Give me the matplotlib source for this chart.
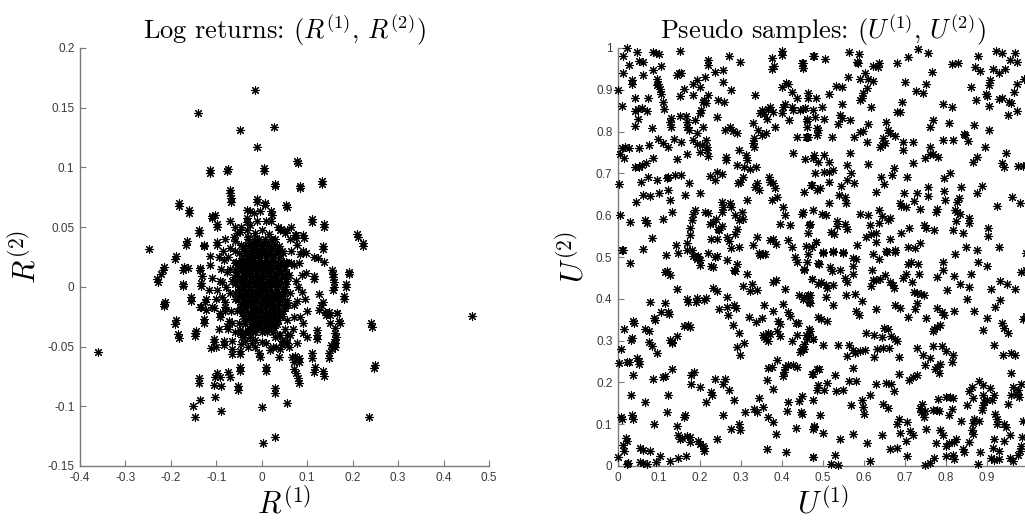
import matplotlib
matplotlib.use("Agg")
import matplotlib.pyplot as plt

plt.rcParams['mathtext.fontset'] = 'cm'
plt.rcParams['font.family'] = ['Liberation Sans', 'DejaVu Sans']

# ---------------- Left panel: log returns (R1, R2) ----------------
returns_outer = [
    (-0.361, -0.0547), (-0.249, 0.0316), (-0.23, 0.0064), (-0.222, 0.0109), (-0.215, 0.0165),
    (-0.214, -0.0123), (-0.216, -0.0142), (-0.189, 0.026), (-0.189, -0.0277), (-0.183, 0.0701),
    (-0.184, -0.0394), (-0.173, 0.0028), (-0.172, 0.017), (-0.162, 0.0156), (-0.161, 0.064),
    (-0.165, 0.038), (-0.156, -0.0081), (-0.152, -0.0997), (-0.146, -0.1087), (-0.145, -0.0369),
    (-0.146, -0.0383), (-0.141, 0.1455), (-0.138, 0.0472), (-0.138, -0.076), (-0.136, -0.0947),
    (-0.136, 0.0162), (-0.132, 0.0087), (-0.133, 0.0003), (-0.133, -0.0165), (-0.127, 0.0338),
    (-0.127, -0.0268), (-0.122, -0.0098), (-0.127, 0.0352), (-0.114, 0.0975), (-0.112, -0.0508),
    (-0.109, 0.0595), (-0.106, -0.0179), (-0.105, -0.0439), (-0.103, -0.0925), (-0.1, -0.05),
    (-0.099, 0.0528), (-0.099, -0.0718), (-0.099, 0.0374), (-0.092, -0.0751), (-0.09, -0.1039),
    (-0.092, -0.0221), (-0.083, -0.045), (-0.081, -0.0165), (-0.074, -0.0709), (-0.073, -0.029),
    (-0.075, 0.0986), (-0.07, 0.0813), (-0.068, 0.0743), (-0.066, -0.0522), (-0.052, -0.0827),
    (-0.049, -0.0668), (-0.049, 0.1316), (-0.049, -0.0536), (-0.048, -0.0388), (-0.037, -0.045),
    (-0.033, 0.0575), (-0.033, 0.0645), (-0.02, -0.038), (-0.015, 0.1645), (-0.011, 0.117),
    (-0.011, 0.0735), (-0.017, 0.0617), (-0.015, -0.0444), (-0.006, -0.055), (0.0, -0.1008),
    (0.002, -0.1304), (0.004, 0.0994), (0.006, 0.0701), (0.009, -0.0668), (0.021, 0.0631),
    (0.026, 0.1335), (0.028, -0.126), (0.029, 0.086), (0.03, -0.0844), (0.031, -0.0506),
    (0.038, -0.0589), (0.042, 0.0483), (0.053, 0.0687), (0.055, -0.0975), (0.053, -0.0458),
    (0.056, -0.0402), (0.067, -0.0589), (0.072, -0.0689), (0.075, 0.0436), (0.073, -0.0583),
    (0.077, 0.1056), (0.08, -0.0765), (0.082, -0.0598), (0.085, 0.0846), (0.085, 0.0277),
    (0.088, -0.0047), (0.09, -0.0388), (0.091, 0.0436), (0.098, 0.0282), (0.111, -0.055),
    (0.11, 0.0567), (0.114, 0.0092), (0.117, -0.0673), (0.121, -0.0402), (0.124, 0.024),
    (0.126, -0.0193), (0.132, 0.0883), (0.134, 0.0338), (0.135, -0.0123), (0.135, -0.0702),
    (0.137, 0.0528), (0.139, -0.0207), (0.147, -0.0556), (0.149, -0.0207), (0.153, -0.0486),
    (0.154, 0.0142), (0.156, 0.0081), (0.158, -0.0003), (0.162, -0.0472), (0.165, -0.0221),
    (0.164, -0.0416), (0.162, -0.0346), (0.171, -0.0282), (0.18, -0.0075), (0.186, 0.0022),
    (0.193, 0.0128), (0.21, 0.0444), (0.222, 0.0366), (0.237, -0.1087), (0.24, -0.0299),
    (0.25, -0.0654), (0.463, -0.024),
]

returns_ring = [
    (-0.114, 0.0957), (-0.076, 0.0966), (0.005, 0.0974), (0.079, 0.104), (0.03, 0.0846),
    (0.085, 0.0826), (0.132, 0.0862), (-0.07, 0.079), (-0.068, 0.0714), (-0.183, 0.0678),
    (-0.161, 0.0622), (-0.011, 0.0714), (0.007, 0.0687), (0.055, 0.0667), (-0.027, 0.0631),
    (-0.004, 0.0631), (0.022, 0.0603), (-0.11, 0.0575), (-0.103, 0.0603), (-0.099, 0.0505),
    (-0.033, 0.0547), (0.11, 0.0547), (0.137, 0.05), (-0.139, 0.0455), (-0.167, 0.0352),
    (-0.127, 0.0338), (-0.099, 0.0352), (0.211, 0.0416), (0.223, 0.0338), (-0.191, 0.0232),
    (-0.217, 0.0137), (-0.228, 0.0044), (-0.174, 0.0142), (-0.136, 0.0137), (-0.134, 0.0036),
    (-0.174, 0.0003), (-0.156, -0.0115), (-0.215, -0.0159), (-0.191, -0.031), (-0.183, -0.043),
    (-0.147, -0.041), (-0.127, -0.0304), (-0.136, -0.0165), (-0.125, -0.0123), (-0.11, -0.0165),
    (-0.092, -0.0249), (-0.076, -0.0327), (-0.106, -0.0458), (-0.083, -0.0486), (-0.066, -0.0561),
    (-0.048, -0.0561), (-0.049, -0.0701), (-0.071, -0.0751), (-0.103, -0.0751), (-0.139, -0.0807),
    (-0.105, -0.0821), (-0.09, -0.0829), (-0.053, -0.0863), (0.01, -0.0701), (0.03, -0.0885),
    (0.081, -0.0801), (0.076, -0.0718), (0.115, -0.0709), (0.137, -0.0745), (0.11, -0.0597),
    (0.07, -0.0625), (0.081, -0.0625), (0.147, -0.0597), (0.154, -0.0522), (0.162, -0.05),
    (0.162, -0.0388), (0.162, -0.0438), (0.173, -0.0304), (0.121, -0.0438), (0.165, -0.0215),
    (0.151, -0.0235), (0.142, -0.0235), (0.242, -0.0332), (0.248, -0.0681), (0.18, -0.0103),
    (0.186, -0.0003), (0.193, 0.0109), (0.157, 0.0109), (0.158, 0.0044), (0.157, -0.0025),
    (0.127, -0.0059), (0.13, -0.0151), (0.115, 0.0064), (0.136, 0.0212), (0.134, 0.0316),
    (0.114, 0.0254), (0.092, 0.0408), (0.076, 0.0408), (0.055, 0.0477), (0.041, 0.0472),
    (0.151, -0.0304), (0.121, -0.036), (0.099, -0.0416), (0.077, -0.0472), (0.044, -0.0486),
    (0.018, -0.0528), (-0.004, -0.0584), (-0.022, -0.0472), (-0.044, -0.0416), (-0.048, -0.036),
    (-0.037, -0.0374), (-0.026, -0.0416), (0.0, -0.0458), (0.037, -0.0402), (0.055, -0.0472),
    (-0.088, -0.0081), (-0.081, -0.0123), (-0.099, -0.0025), (-0.088, 0.0044), (-0.076, 0.0128),
    (-0.084, 0.0226), (-0.07, 0.0324), (-0.059, 0.038), (-0.048, 0.0463), (-0.033, 0.0477),
    (-0.114, 0.026), (-0.115, 0.0184), (-0.11, 0.0073), (-0.117, -0.0025), (-0.122, -0.0193),
    (0.074, 0.0436), (0.065, 0.03), (0.07, 0.018), (0.075, 0.005), (0.078, -0.012),
    (0.07, -0.025), (0.062, -0.04), (0.098, 0.012), (0.1, -0.02), (0.09, -0.03),
    (-0.09, 0.015), (-0.095, -0.035), (-0.065, -0.045), (-0.06, 0.05), (0.02, 0.055),
]

returns_mid = [
    (-0.085, 0.03), (-0.08, 0.04), (-0.078, 0.0), (-0.082, -0.02), (-0.075, -0.035),
    (-0.062, 0.042), (-0.055, 0.045), (-0.065, -0.03), (-0.058, -0.038), (-0.045, -0.048),
    (-0.03, -0.05), (-0.015, -0.05), (0.01, -0.047), (0.025, -0.05), (0.04, -0.052),
    (0.06, -0.05), (0.068, -0.035), (0.072, -0.015), (0.08, 0.0), (0.082, 0.02),
    (0.078, 0.035), (0.062, 0.04), (0.05, 0.045), (0.035, 0.05), (0.01, 0.055),
    (-0.01, 0.055), (-0.025, 0.052), (-0.045, 0.05), (0.088, 0.01), (0.095, -0.01),
    (0.085, -0.025), (0.09, 0.03), (-0.092, 0.005), (-0.095, 0.025), (-0.1, -0.01),
    (0.065, 0.05), (-0.07, 0.055), (0.045, -0.045), (0.065, 0.02), (-0.075, 0.025),
]

returns_core = [
    (-0.04, 0.03), (-0.025, 0.035), (-0.01, 0.038), (0.005, 0.036), (0.02, 0.033), (0.035, 0.028),
    (-0.05, 0.02), (-0.035, 0.022), (-0.02, 0.025), (-0.005, 0.027), (0.01, 0.024), (0.025, 0.022),
    (0.04, 0.018), (-0.055, 0.01), (-0.04, 0.012), (-0.025, 0.015), (-0.012, 0.016), (0.002, 0.014),
    (0.016, 0.015), (0.03, 0.012), (0.045, 0.008), (-0.05, 0.0), (-0.035, 0.003), (-0.02, 0.005),
    (-0.008, 0.006), (0.006, 0.004), (0.02, 0.005), (0.034, 0.002), (0.05, -0.002), (-0.045, -0.008),
    (-0.03, -0.006), (-0.016, -0.004), (-0.003, -0.003), (0.012, -0.005), (0.026, -0.007),
    (0.04, -0.01), (-0.04, -0.018), (-0.025, -0.015), (-0.01, -0.013), (0.004, -0.014),
    (0.018, -0.016), (0.032, -0.018), (0.046, -0.02), (-0.035, -0.027), (-0.02, -0.025),
    (-0.006, -0.024), (0.008, -0.026), (0.022, -0.027), (0.036, -0.028), (-0.025, -0.035),
    (-0.01, -0.034), (0.005, -0.036), (0.02, -0.035),
    (-0.015, 0.045), (0.0, 0.048), (0.015, 0.044), (-0.03, 0.042), (0.03, 0.04), (0.045, 0.03),
    (0.055, 0.02), (0.06, 0.01), (0.062, -0.005), (0.058, -0.015), (0.055, -0.028), (0.05, -0.035),
    (0.04, -0.04), (0.028, -0.042), (-0.065, 0.005), (-0.06, -0.01), (-0.058, 0.02), (-0.055, -0.02),
    (-0.05, -0.03), (-0.045, 0.035), (-0.06, 0.03), (-0.07, 0.015), (-0.07, -0.005), (-0.068, -0.02),
    (-0.04, -0.04),
    (-0.032, 0.026), (-0.018, 0.031), (-0.003, 0.031), (0.012, 0.029), (0.027, 0.027), (-0.045, 0.016),
    (-0.03, 0.018), (-0.016, 0.02), (-0.001, 0.02), (0.014, 0.019), (0.028, 0.017), (0.042, 0.013),
    (-0.043, 0.006), (-0.028, 0.009), (-0.014, 0.01), (0.0, 0.009), (0.013, 0.01), (0.027, 0.008),
    (0.04, 0.005), (-0.04, -0.002), (-0.024, 0.0), (-0.01, 0.001), (0.004, -0.0), (0.018, 0.0),
    (0.032, -0.002), (0.045, -0.006), (-0.036, -0.012), (-0.022, -0.01), (-0.008, -0.008),
    (0.007, -0.009), (0.021, -0.011), (0.035, -0.013), (-0.03, -0.021), (-0.016, -0.02),
    (-0.002, -0.019), (0.012, -0.021), (0.026, -0.022), (0.04, -0.024), (-0.018, -0.03),
    (-0.003, -0.03), (0.013, -0.031), (0.028, -0.032),
]

returns_center = [
    (-0.03, 0.04), (-0.018, 0.04), (-0.006, 0.04), (0.008, 0.04), (0.02, 0.04),
    (-0.042, 0.034), (-0.03, 0.034), (-0.016, 0.034), (-0.002, 0.034), (0.012, 0.034), (0.026, 0.034),
    (0.038, 0.034),
    (-0.05, 0.028), (-0.038, 0.028), (-0.024, 0.028), (-0.01, 0.028), (0.004, 0.028), (0.018, 0.028),
    (0.032, 0.028), (0.046, 0.028),
    (-0.056, 0.021), (-0.042, 0.021), (-0.028, 0.021), (-0.014, 0.021), (0.0, 0.021), (0.014, 0.021),
    (0.028, 0.021), (0.042, 0.021), (0.054, 0.021),
    (-0.06, 0.015), (-0.048, 0.015), (-0.034, 0.015), (-0.02, 0.015), (-0.006, 0.015), (0.008, 0.015),
    (0.022, 0.015), (0.036, 0.015), (0.05, 0.015),
    (-0.062, 0.008), (-0.05, 0.008), (-0.036, 0.008), (-0.022, 0.008), (-0.008, 0.008), (0.006, 0.008),
    (0.02, 0.008), (0.034, 0.008), (0.048, 0.008), (0.058, 0.008),
    (-0.058, 0.002), (-0.044, 0.002), (-0.03, 0.002), (-0.016, 0.002), (-0.002, 0.002), (0.012, 0.002),
    (0.026, 0.002), (0.04, 0.002), (0.054, 0.002),
    (-0.058, -0.005), (-0.046, -0.005), (-0.032, -0.005), (-0.018, -0.005), (-0.004, -0.005),
    (0.01, -0.005), (0.024, -0.005), (0.038, -0.005), (0.052, -0.005),
    (-0.052, -0.011), (-0.04, -0.011), (-0.026, -0.011), (-0.012, -0.011), (0.002, -0.011),
    (0.016, -0.011), (0.03, -0.011), (0.044, -0.011), (0.056, -0.011),
    (-0.048, -0.018), (-0.034, -0.018), (-0.02, -0.018), (-0.006, -0.018), (0.008, -0.018),
    (0.022, -0.018), (0.036, -0.018), (0.05, -0.018),
    (-0.042, -0.024), (-0.028, -0.024), (-0.014, -0.024), (0.0, -0.024), (0.014, -0.024),
    (0.028, -0.024), (0.044, -0.024),
    (-0.036, -0.031), (-0.022, -0.031), (-0.008, -0.031), (0.006, -0.031), (0.02, -0.031),
    (0.034, -0.031),
    (-0.028, -0.038), (-0.014, -0.038), (0.0, -0.038), (0.012, -0.038), (0.024, -0.038),
]

returns_dense = [
    (-0.024, 0.037), (-0.012, 0.037), (0.001, 0.037), (0.014, 0.037), (0.028, 0.036),
    (-0.036, 0.031), (-0.023, 0.031), (-0.009, 0.031), (0.005, 0.031), (0.019, 0.031), (0.033, 0.031),
    (-0.044, 0.0245), (-0.031, 0.0245), (-0.017, 0.0245), (-0.003, 0.0245), (0.011, 0.0245),
    (0.025, 0.0245), (0.039, 0.0245),
    (-0.049, 0.018), (-0.035, 0.018), (-0.021, 0.018), (-0.007, 0.018), (0.007, 0.018),
    (0.021, 0.018), (0.035, 0.018), (0.047, 0.018),
    (-0.054, 0.0115), (-0.041, 0.0115), (-0.027, 0.0115), (-0.013, 0.0115), (0.001, 0.0115),
    (0.015, 0.0115), (0.029, 0.0115), (0.043, 0.0115), (0.053, 0.0115),
    (-0.055, 0.005), (-0.043, 0.005), (-0.029, 0.005), (-0.015, 0.005), (-0.001, 0.005),
    (0.013, 0.005), (0.027, 0.005), (0.041, 0.005), (0.053, 0.005),
    (-0.051, -0.0015), (-0.037, -0.0015), (-0.023, -0.0015), (-0.009, -0.0015), (0.005, -0.0015),
    (0.019, -0.0015), (0.033, -0.0015), (0.047, -0.0015),
    (-0.052, -0.008), (-0.039, -0.008), (-0.025, -0.008), (-0.011, -0.008), (0.003, -0.008),
    (0.017, -0.008), (0.031, -0.008), (0.045, -0.008),
    (-0.046, -0.0145), (-0.033, -0.0145), (-0.019, -0.0145), (-0.005, -0.0145), (0.009, -0.0145),
    (0.023, -0.0145), (0.037, -0.0145), (0.05, -0.0145),
    (-0.041, -0.021), (-0.027, -0.021), (-0.013, -0.021), (0.001, -0.021), (0.015, -0.021),
    (0.029, -0.021), (0.043, -0.021),
    (-0.035, -0.0275), (-0.021, -0.0275), (-0.007, -0.0275), (0.007, -0.0275), (0.021, -0.0275),
    (0.035, -0.0275),
    (-0.029, -0.0345), (-0.015, -0.0345), (-0.001, -0.0345), (0.013, -0.0345), (0.027, -0.0345),
]

# ---------------- Right panel: pseudo samples (U1, U2) ----------------
pseudo_upper_left = [
    (0.021, 0.999), (0.013, 0.98), (0.028, 0.96), (0.046, 0.99), (0.052, 0.97), (0.060, 0.966),
    (0.085, 0.99), (0.093, 0.987), (0.10, 0.985), (0.151, 0.994), (0.105, 0.957), (0.086, 0.947),
    (0.062, 0.935), (0.013, 0.939), (0.033, 0.923), (0.033, 0.915), (0.001, 0.90), (0.042, 0.88),
    (0.009, 0.861), (0.074, 0.88), (0.096, 0.927), (0.098, 0.915), (0.102, 0.903), (0.106, 0.891),
    (0.11, 0.871), (0.112, 0.855), (0.094, 0.911), (0.143, 0.935), (0.15, 0.939), (0.155, 0.94),
    (0.151, 0.884), (0.161, 0.901), (0.182, 0.915), (0.194, 0.923), (0.2, 0.907), (0.212, 0.931),
    (0.184, 0.887), (0.199, 0.845), (0.203, 0.851), (0.207, 0.871), (0.21, 0.875), (0.215, 0.869),
    (0.22, 0.887), (0.237, 0.943), (0.256, 0.947), (0.257, 0.919), (0.272, 0.98), (0.22, 0.971),
    (0.22, 0.959), (0.243, 0.875), (0.259, 0.871), (0.277, 0.9), (0.298, 0.967), (0.241, 0.834),
    (0.041, 0.849), (0.05, 0.853), (0.058, 0.856), (0.072, 0.85), (0.041, 0.813), (0.048, 0.829),
    (0.082, 0.808), (0.127, 0.824), (0.129, 0.81), (0.129, 0.832), (0.151, 0.837), (0.166, 0.837),
    (0.169, 0.824), (0.168, 0.812), (0.174, 0.804), (0.188, 0.827), (0.192, 0.796), (0.2, 0.845),
    (0.208, 0.812), (0.009, 0.76), (0.005, 0.746), (0.017, 0.764), (0.028, 0.76), (0.015, 0.736),
    (0.052, 0.76), (0.076, 0.768), (0.098, 0.782), (0.111, 0.772), (0.121, 0.764), (0.137, 0.782),
    (0.154, 0.775), (0.169, 0.746), (0.145, 0.734), (0.041, 0.716), (0.052, 0.715), (0.058, 0.72),
    (0.068, 0.724), (0.085, 0.736), (0.055, 0.68), (0.074, 0.692), (0.096, 0.684), (0.119, 0.688),
    (0.123, 0.692), (0.139, 0.696), (0.153, 0.695), (0.174, 0.676), (0.003, 0.675), (0.045, 0.632),
    (0.062, 0.648), (0.078, 0.646), (0.101, 0.652), (0.123, 0.66), (0.127, 0.636), (0.164, 0.648),
    (0.2, 0.654), (0.133, 0.608), (0.005, 0.6), (0.029, 0.584), (0.066, 0.588), (0.072, 0.582),
    (0.109, 0.59), (0.082, 0.546), (0.062, 0.52), (0.009, 0.516),
    (0.184, 0.78), (0.192, 0.77), (0.2, 0.752), (0.204, 0.767), (0.215, 0.78), (0.218, 0.764),
    (0.218, 0.756), (0.22, 0.742), (0.225, 0.693), (0.241, 0.703), (0.253, 0.699), (0.237, 0.684),
    (0.261, 0.804), (0.273, 0.812), (0.264, 0.74), (0.264, 0.732), (0.28, 0.801), (0.29, 0.797),
    (0.312, 0.744), (0.296, 0.756), (0.291, 0.72), (0.294, 0.676), (0.299, 0.68), (0.306, 0.692),
    (0.308, 0.716), (0.314, 0.732), (0.322, 0.71), (0.33, 0.772), (0.332, 0.784), (0.332, 0.764),
    (0.337, 0.716), (0.339, 0.676), (0.345, 0.66), (0.334, 0.668), (0.314, 0.636), (0.33, 0.82),
    (0.342, 0.804), (0.351, 0.792), (0.347, 0.844), (0.334, 0.887), (0.351, 0.851), (0.356, 0.843),
    (0.363, 0.831), (0.367, 0.855), (0.379, 0.847), (0.383, 0.812), (0.371, 0.859), (0.361, 0.796),
    (0.369, 0.692), (0.379, 0.676), (0.383, 0.664), (0.371, 0.68), (0.387, 0.644), (0.375, 0.636),
    (0.395, 0.58), (0.402, 0.62), (0.408, 0.6), (0.42, 0.576), (0.416, 0.54), (0.426, 0.525),
    (0.448, 0.604), (0.452, 0.608), (0.475, 0.612), (0.467, 0.576), (0.474, 0.525), (0.483, 0.536),
    (0.477, 0.736), (0.489, 0.728), (0.493, 0.664), (0.472, 0.672), (0.461, 0.812), (0.465, 0.788),
    (0.444, 0.851), (0.461, 0.831), (0.459, 0.788), (0.436, 0.788), (0.428, 0.748), (0.418, 0.827),
    (0.428, 0.851), (0.424, 0.859), (0.436, 0.88), (0.424, 0.895), (0.408, 0.867), (0.402, 0.859),
    (0.4, 0.845), (0.381, 0.957), (0.377, 0.977), (0.4, 0.993), (0.401, 0.983), (0.377, 0.949),
    (0.4, 0.907), (0.41, 0.917), (0.416, 0.914), (0.448, 0.963), (0.451, 0.951), (0.477, 0.98),
    (0.465, 0.88), (0.483, 0.88), (0.477, 0.851),
    (0.184, 0.604), (0.188, 0.612), (0.18, 0.588), (0.177, 0.569), (0.176, 0.553), (0.169, 0.533),
    (0.18, 0.517), (0.192, 0.501), (0.2, 0.493), (0.212, 0.608), (0.22, 0.606), (0.233, 0.584),
    (0.239, 0.59), (0.245, 0.568), (0.253, 0.574), (0.247, 0.565), (0.225, 0.58), (0.226, 0.542),
    (0.241, 0.544), (0.253, 0.632), (0.257, 0.62), (0.255, 0.608), (0.273, 0.628), (0.275, 0.62),
    (0.286, 0.6), (0.296, 0.588), (0.302, 0.608), (0.306, 0.592), (0.29, 0.568), (0.286, 0.556),
    (0.272, 0.539), (0.265, 0.549), (0.277, 0.521), (0.296, 0.523), (0.237, 0.501), (0.22, 0.509),
    (0.33, 0.528), (0.345, 0.51), (0.355, 0.508), (0.371, 0.54), (0.379, 0.544), (0.385, 0.532),
    (0.339, 0.548), (0.147, 0.509), (0.141, 0.528), (0.117, 0.504),
]

pseudo_upper_right = [
    (0.479, 0.981), (0.506, 0.973), (0.451, 0.965), (0.451, 0.951), (0.565, 0.991), (0.589, 0.986),
    (0.584, 0.967), (0.587, 0.963), (0.622, 0.957), (0.636, 0.963), (0.634, 0.955), (0.682, 0.965),
    (0.709, 0.978), (0.733, 0.997), (0.758, 0.989), (0.766, 0.943), (0.815, 0.962), (0.831, 0.963),
    (0.878, 0.981), (0.872, 0.954), (0.884, 0.946), (0.923, 0.994), (0.937, 0.987), (0.969, 0.989),
    (0.956, 0.971), (0.975, 0.967), (0.915, 0.949), (0.929, 0.939), (0.945, 0.949), (0.909, 0.923),
    (0.905, 0.911), (0.99, 0.927), (0.973, 0.914), (0.966, 0.895), (0.861, 0.906), (0.874, 0.876),
    (0.898, 0.891), (0.9, 0.885), (0.931, 0.877), (0.937, 0.88), (0.955, 0.871), (0.959, 0.868),
    (0.905, 0.861), (0.973, 0.85), (0.951, 0.84), (0.906, 0.805), (0.869, 0.816), (0.847, 0.792),
    (0.855, 0.778), (0.896, 0.762), (0.877, 0.74), (0.866, 0.728), (0.948, 0.75), (0.937, 0.726),
    (0.943, 0.716), (0.977, 0.718), (0.988, 0.718), (0.961, 0.644), (0.982, 0.63), (0.925, 0.622),
    (0.904, 0.569), (0.904, 0.55), (0.929, 0.523),
    (0.562, 0.931), (0.591, 0.925), (0.603, 0.939), (0.611, 0.927), (0.623, 0.922), (0.599, 0.892),
    (0.595, 0.88), (0.591, 0.876), (0.607, 0.904), (0.533, 0.909), (0.548, 0.906), (0.516, 0.891),
    (0.465, 0.893), (0.457, 0.856), (0.452, 0.853), (0.497, 0.858), (0.548, 0.866), (0.617, 0.86),
    (0.481, 0.834), (0.503, 0.829), (0.461, 0.826), (0.542, 0.84), (0.546, 0.832), (0.538, 0.818),
    (0.566, 0.828), (0.654, 0.824), (0.611, 0.818), (0.485, 0.808), (0.489, 0.804), (0.487, 0.792),
    (0.461, 0.786), (0.522, 0.786), (0.575, 0.788), (0.591, 0.8), (0.599, 0.802), (0.607, 0.776),
    (0.66, 0.804), (0.665, 0.796), (0.676, 0.79), (0.648, 0.785), (0.644, 0.768), (0.652, 0.772),
    (0.64, 0.762), (0.697, 0.776), (0.72, 0.776), (0.695, 0.757), (0.693, 0.871), (0.681, 0.848),
    (0.689, 0.848), (0.728, 0.898), (0.745, 0.892), (0.752, 0.914), (0.701, 0.919), (0.768, 0.828),
    (0.762, 0.812), (0.794, 0.866), (0.815, 0.858), (0.807, 0.82), (0.794, 0.781), (0.819, 0.781),
    (0.845, 0.794), (0.762, 0.764), (0.75, 0.738), (0.762, 0.747), (0.77, 0.747), (0.782, 0.74),
    (0.72, 0.726), (0.566, 0.75), (0.611, 0.722), (0.56, 0.72), (0.478, 0.744), (0.503, 0.744),
    (0.514, 0.728), (0.457, 0.734), (0.481, 0.702), (0.503, 0.704), (0.516, 0.704), (0.526, 0.707),
    (0.57, 0.7), (0.576, 0.678), (0.558, 0.684), (0.516, 0.68), (0.473, 0.672), (0.454, 0.656),
    (0.486, 0.66), (0.544, 0.67), (0.54, 0.648), (0.554, 0.643), (0.557, 0.628), (0.514, 0.628),
    (0.641, 0.692), (0.668, 0.696), (0.674, 0.713), (0.65, 0.675), (0.63, 0.656), (0.705, 0.691),
    (0.698, 0.652), (0.729, 0.654), (0.688, 0.628), (0.692, 0.622), (0.703, 0.62), (0.723, 0.635),
    (0.737, 0.616), (0.778, 0.614), (0.758, 0.667), (0.758, 0.646), (0.797, 0.659), (0.81, 0.702),
    (0.795, 0.688), (0.837, 0.668), (0.827, 0.632), (0.833, 0.64), (0.823, 0.612), (0.828, 0.608),
    (0.835, 0.603), (0.858, 0.593), (0.858, 0.582), (0.876, 0.654), (0.888, 0.67), (0.591, 0.603),
    (0.611, 0.601), (0.638, 0.612), (0.644, 0.598), (0.658, 0.588), (0.664, 0.593), (0.638, 0.582),
    (0.615, 0.577), (0.617, 0.555), (0.605, 0.549), (0.63, 0.558), (0.63, 0.537), (0.665, 0.543),
    (0.692, 0.558), (0.711, 0.569), (0.747, 0.577), (0.752, 0.569), (0.771, 0.565), (0.737, 0.533),
    (0.725, 0.521), (0.707, 0.525), (0.654, 0.515), (0.676, 0.517), (0.55, 0.51), (0.583, 0.529),
    (0.525, 0.513), (0.501, 0.51), (0.46, 0.526), (0.469, 0.579), (0.465, 0.557), (0.521, 0.561),
    (0.527, 0.555), (0.535, 0.573), (0.554, 0.579), (0.56, 0.566), (0.509, 0.6), (0.497, 0.604),
    (0.535, 0.585), (0.483, 0.537), (0.819, 0.565), (0.843, 0.558), (0.85, 0.523), (0.876, 0.517),
    (0.825, 0.585), (0.798, 0.636), (0.776, 0.608),
    (0.995, 0.72), (0.997, 0.51), (0.995, 0.36), (0.996, 0.47),
]

pseudo_lower_left = [
    (0.011, 0.516), (0.029, 0.486), (0.115, 0.463), (0.119, 0.466), (0.127, 0.458), (0.145, 0.423),
    (0.169, 0.516), (0.182, 0.502), (0.196, 0.502), (0.192, 0.496), (0.2, 0.48), (0.226, 0.478),
    (0.231, 0.476), (0.241, 0.502), (0.265, 0.492), (0.29, 0.484), (0.283, 0.47), (0.286, 0.466),
    (0.314, 0.46), (0.326, 0.436), (0.306, 0.431), (0.322, 0.418), (0.34, 0.42), (0.347, 0.504),
    (0.359, 0.508), (0.379, 0.44), (0.386, 0.444), (0.408, 0.423), (0.432, 0.5), (0.438, 0.488),
    (0.454, 0.472), (0.465, 0.506), (0.473, 0.447), (0.489, 0.436), (0.491, 0.484),
    (0.233, 0.426), (0.242, 0.418), (0.247, 0.376), (0.265, 0.38), (0.267, 0.404), (0.269, 0.362),
    (0.283, 0.384), (0.288, 0.379), (0.215, 0.402), (0.21, 0.397), (0.192, 0.402), (0.169, 0.4),
    (0.172, 0.392), (0.19, 0.392), (0.281, 0.337), (0.296, 0.319), (0.307, 0.294), (0.291, 0.285),
    (0.298, 0.266), (0.321, 0.357), (0.337, 0.345), (0.351, 0.355), (0.356, 0.385), (0.378, 0.371),
    (0.402, 0.387), (0.416, 0.368), (0.42, 0.36), (0.391, 0.348), (0.395, 0.34), (0.353, 0.314),
    (0.357, 0.309), (0.361, 0.303), (0.365, 0.298), (0.367, 0.318), (0.371, 0.316), (0.388, 0.324),
    (0.395, 0.311), (0.389, 0.253), (0.375, 0.237), (0.367, 0.234), (0.364, 0.205), (0.379, 0.185),
    (0.402, 0.215), (0.405, 0.226), (0.407, 0.238), (0.416, 0.242), (0.428, 0.242), (0.436, 0.238),
    (0.444, 0.273), (0.448, 0.282), (0.454, 0.28), (0.426, 0.298), (0.436, 0.314), (0.461, 0.305),
    (0.467, 0.314), (0.469, 0.322), (0.44, 0.341), (0.434, 0.343), (0.465, 0.408), (0.454, 0.404),
    (0.443, 0.408), (0.467, 0.392), (0.477, 0.305), (0.475, 0.221), (0.487, 0.233), (0.489, 0.193),
    (0.007, 0.281), (0.003, 0.246), (0.021, 0.25), (0.028, 0.248), (0.015, 0.327), (0.033, 0.306),
    (0.031, 0.301), (0.037, 0.346), (0.039, 0.341), (0.047, 0.259), (0.052, 0.251), (0.052, 0.245),
    (0.037, 0.217), (0.031, 0.171), (0.066, 0.327), (0.076, 0.324), (0.076, 0.297), (0.082, 0.287),
    (0.078, 0.392), (0.088, 0.353), (0.09, 0.349), (0.094, 0.271), (0.104, 0.368), (0.115, 0.391),
    (0.123, 0.368), (0.125, 0.364), (0.127, 0.301), (0.131, 0.297), (0.133, 0.294), (0.145, 0.311),
    (0.16, 0.335), (0.17, 0.338), (0.177, 0.333), (0.085, 0.207), (0.109, 0.213), (0.115, 0.215),
    (0.133, 0.231), (0.123, 0.169), (0.066, 0.153), (0.119, 0.128), (0.033, 0.121), (0.037, 0.113),
    (0.009, 0.112), (0.088, 0.101), (0.179, 0.217), (0.185, 0.225), (0.179, 0.195), (0.199, 0.189),
    (0.226, 0.177), (0.23, 0.171), (0.237, 0.207), (0.261, 0.207), (0.256, 0.195), (0.27, 0.181),
    (0.283, 0.157), (0.215, 0.153), (0.257, 0.121), (0.277, 0.089), (0.296, 0.101), (0.298, 0.085),
    (0.31, 0.129), (0.332, 0.137), (0.34, 0.128), (0.353, 0.141), (0.345, 0.163), (0.367, 0.117),
    (0.379, 0.105), (0.386, 0.077), (0.412, 0.131), (0.414, 0.152), (0.443, 0.155), (0.447, 0.128),
    (0.435, 0.09), (0.478, 0.095), (0.477, 0.089), (0.475, 0.021), (0.364, 0.041), (0.41, 0.033),
    (0.242, 0.065), (0.164, 0.123), (0.16, 0.117), (0.145, 0.096), (0.147, 0.074), (0.151, 0.064),
    (0.157, 0.068), (0.169, 0.072), (0.176, 0.07), (0.176, 0.057), (0.196, 0.059), (0.2, 0.053),
    (0.207, 0.049), (0.21, 0.037), (0.21, 0.043), (0.127, 0.011), (0.147, 0.018), (0.166, 0.024),
    (0.103, 0.024), (0.093, 0.01), (0.078, 0.037), (0.054, 0.043), (0.06, 0.039), (0.015, 0.037),
    (0.019, 0.067), (0.021, 0.061), (0.011, 0.051), (0.001, 0.021), (0.021, 0.004), (0.025, 0.008),
    (0.054, 0.009), (0.06, 0.006), (0.07, 0.004), (0.007, 0.117),
]

pseudo_lower_right = [
    (0.501, 0.512), (0.525, 0.514), (0.549, 0.512), (0.454, 0.47), (0.462, 0.488), (0.489, 0.486),
    (0.473, 0.447), (0.495, 0.439), (0.508, 0.434), (0.511, 0.426), (0.526, 0.434), (0.518, 0.476),
    (0.522, 0.466), (0.542, 0.468), (0.554, 0.45), (0.558, 0.44), (0.573, 0.498), (0.581, 0.496),
    (0.574, 0.478), (0.574, 0.46), (0.622, 0.508), (0.638, 0.496), (0.619, 0.47), (0.622, 0.444),
    (0.617, 0.431), (0.63, 0.444), (0.64, 0.448), (0.652, 0.456), (0.663, 0.439), (0.671, 0.434),
    (0.674, 0.426), (0.656, 0.512), (0.676, 0.512), (0.697, 0.45), (0.703, 0.46), (0.709, 0.484),
    (0.715, 0.488), (0.733, 0.484), (0.736, 0.46), (0.717, 0.439), (0.469, 0.408), (0.451, 0.399),
    (0.469, 0.391), (0.509, 0.404), (0.524, 0.386), (0.557, 0.41), (0.579, 0.412), (0.595, 0.394),
    (0.581, 0.37), (0.589, 0.362), (0.631, 0.375), (0.676, 0.385), (0.689, 0.379), (0.709, 0.357),
    (0.722, 0.416), (0.729, 0.415), (0.739, 0.412), (0.747, 0.41), (0.729, 0.391), (0.725, 0.375),
    (0.753, 0.354), (0.779, 0.378), (0.79, 0.369), (0.796, 0.361), (0.768, 0.322), (0.771, 0.327),
    (0.778, 0.332), (0.786, 0.338), (0.82, 0.372), (0.804, 0.42), (0.78, 0.452), (0.794, 0.47),
    (0.793, 0.488), (0.823, 0.506), (0.82, 0.455), (0.834, 0.436), (0.852, 0.4), (0.861, 0.46),
    (0.856, 0.428), (0.88, 0.488), (0.9, 0.478), (0.869, 0.372), (0.9, 0.354), (0.89, 0.325),
    (0.91, 0.423), (0.92, 0.38), (0.933, 0.396), (0.933, 0.442), (0.949, 0.436), (0.969, 0.423),
    (0.983, 0.464), (0.988, 0.352), (0.937, 0.341), (0.943, 0.33), (0.953, 0.319), (0.918, 0.289),
    (0.939, 0.265), (0.959, 0.271), (0.969, 0.266),
    (0.489, 0.356), (0.495, 0.352), (0.511, 0.347), (0.467, 0.327), (0.459, 0.314), (0.477, 0.305),
    (0.454, 0.293), (0.452, 0.281), (0.501, 0.29), (0.538, 0.29), (0.558, 0.263), (0.564, 0.29),
    (0.574, 0.278), (0.578, 0.27), (0.591, 0.274), (0.603, 0.278), (0.606, 0.317), (0.625, 0.314),
    (0.644, 0.309), (0.65, 0.33), (0.658, 0.328), (0.666, 0.311), (0.676, 0.304), (0.682, 0.3),
    (0.646, 0.282), (0.633, 0.28), (0.625, 0.261), (0.662, 0.282), (0.687, 0.261), (0.573, 0.234),
    (0.687, 0.219), (0.711, 0.205), (0.721, 0.213), (0.731, 0.217), (0.729, 0.282), (0.744, 0.266),
    (0.75, 0.242), (0.762, 0.258), (0.768, 0.286), (0.774, 0.231), (0.78, 0.236), (0.786, 0.245),
    (0.791, 0.286), (0.8, 0.274), (0.815, 0.25), (0.819, 0.265), (0.784, 0.223), (0.473, 0.221),
    (0.491, 0.231), (0.53, 0.218), (0.485, 0.181), (0.503, 0.183), (0.511, 0.199), (0.533, 0.179),
    (0.55, 0.181), (0.564, 0.203), (0.581, 0.203), (0.449, 0.167), (0.475, 0.159), (0.449, 0.125),
    (0.493, 0.123), (0.478, 0.093), (0.5, 0.08), (0.542, 0.064), (0.53, 0.027), (0.477, 0.022),
    (0.519, 0.004), (0.538, 0.002), (0.57, 0.145), (0.573, 0.077), (0.595, 0.157), (0.597, 0.141),
    (0.6, 0.125), (0.615, 0.171), (0.63, 0.195), (0.646, 0.149), (0.658, 0.139), (0.654, 0.199),
    (0.666, 0.195), (0.674, 0.179), (0.607, 0.056), (0.615, 0.011), (0.644, 0.075), (0.663, 0.04),
    (0.682, 0.043), (0.681, 0.101), (0.687, 0.113), (0.705, 0.105), (0.689, 0.08), (0.713, 0.083),
    (0.721, 0.073), (0.703, 0.059), (0.706, 0.024), (0.742, 0.149), (0.737, 0.139), (0.739, 0.129),
    (0.747, 0.117), (0.752, 0.088), (0.749, 0.131), (0.77, 0.133), (0.779, 0.135), (0.784, 0.131),
    (0.782, 0.161), (0.802, 0.165), (0.81, 0.165), (0.819, 0.163), (0.807, 0.123), (0.815, 0.137),
    (0.771, 0.019), (0.749, 0.003), (0.762, 0.006), (0.776, 0.056), (0.794, 0.075), (0.786, 0.085),
    (0.801, 0.048), (0.807, 0.054), (0.82, 0.057), (0.825, 0.065), (0.817, 0.026), (0.82, 0.016),
    (0.802, 0.024), (0.837, 0.107), (0.845, 0.034), (0.842, 0.04), (0.852, 0.145), (0.856, 0.179),
    (0.864, 0.189), (0.867, 0.163), (0.882, 0.203), (0.89, 0.193), (0.89, 0.171), (0.893, 0.152),
    (0.868, 0.112), (0.866, 0.104), (0.864, 0.085), (0.866, 0.077), (0.882, 0.108), (0.858, 0.057),
    (0.884, 0.033), (0.88, 0.004), (0.9, 0.157), (0.912, 0.157), (0.917, 0.169), (0.909, 0.187),
    (0.888, 0.133), (0.892, 0.145), (0.921, 0.125), (0.925, 0.112), (0.925, 0.101), (0.943, 0.101),
    (0.947, 0.093), (0.917, 0.064), (0.943, 0.059), (0.957, 0.075), (0.931, 0.035), (0.91, 0.019),
    (0.917, 0.014), (0.929, 0.016), (0.957, 0.018), (0.965, 0.011), (0.977, 0.027), (0.982, 0.037),
    (0.983, 0.048), (0.986, 0.069), (0.988, 0.107), (0.965, 0.189), (0.973, 0.173), (0.98, 0.165),
    (0.977, 0.181), (0.959, 0.171), (0.959, 0.223), (0.985, 0.195), (0.951, 0.149), (0.915, 0.042),
]

left_xticks = [-0.4, -0.3, -0.2, -0.1, 0, 0.1, 0.2, 0.3, 0.4, 0.5]
left_xticklabels = ['-0.4', '-0.3', '-0.2', '-0.1', '0', '0.1', '0.2', '0.3', '0.4', '0.5']
left_yticks = [-0.15, -0.1, -0.05, 0, 0.05, 0.1, 0.15, 0.2]
left_yticklabels = ['-0.15', '-0.1', '-0.05', '0', '0.05', '0.1', '0.15', '0.2']
right_xticks = [0, 0.1, 0.2, 0.3, 0.4, 0.5, 0.6, 0.7, 0.8, 0.9, 1.0]
right_xticklabels = ['0', '0.1', '0.2', '0.3', '0.4', '0.5', '0.6', '0.7', '0.8', '0.9', '']
right_yticks = [0, 0.1, 0.2, 0.3, 0.4, 0.5, 0.6, 0.7, 0.8, 0.9, 1.0]
right_yticklabels = ['0', '0.1', '0.2', '0.3', '0.4', '0.5', '0.6', '0.7', '0.8', '0.9', '1']

W, H = 1025, 529
fig = plt.figure(figsize=(W / 100, H / 100), dpi=100)
axL = fig.add_axes([80 / W, 1 - 466 / H, 409 / W, 418 / H])
axR = fig.add_axes([618 / W, 1 - 466 / H, 409.6 / W, 418 / H])

marker = (8, 2, 0)
spine_col = '#7a7a7a'
lab_col = '#3a3a3a'


def draw(ax, groups):
    for g in groups:
        xs = [p[0] for p in g]
        ys = [p[1] for p in g]
        ax.scatter(xs, ys, s=34, marker=marker, c='black', linewidths=0.8,
                   clip_on=False, zorder=3)


draw(axL, [returns_outer, returns_ring, returns_mid, returns_core, returns_center, returns_dense])
draw(axR, [pseudo_upper_left, pseudo_upper_right, pseudo_lower_left, pseudo_lower_right])

axL.set_xlim(-0.4, 0.5)
axL.set_ylim(-0.15, 0.2)
axL.set_xticks(left_xticks, left_xticklabels)
axL.set_yticks(left_yticks, left_yticklabels)
axR.set_xlim(0, 1)
axR.set_ylim(0, 1)
axR.set_xticks(right_xticks, right_xticklabels)
axR.set_yticks(right_yticks, right_yticklabels)

for ax in (axL, axR):
    for side in ('top', 'right'):
        ax.spines[side].set_visible(False)
    for side in ('left', 'bottom'):
        ax.spines[side].set_color(spine_col)
        ax.spines[side].set_linewidth(1.0)
    ax.tick_params(direction='in', length=4, width=0.8, color=spine_col,
                   labelsize=8.5, labelcolor=lab_col, pad=4)

title_font = dict(fontsize=19, family='cmr10')
axL.set_title(r'Log returns: $(R^{(1)},\,R^{(2)})$', pad=6, **title_font)
axR.set_title(r'Pseudo samples: $(U^{(1)},\,U^{(2)})$', pad=6, **title_font)
axL.set_xlabel(r'$R^{(1)}$', fontsize=22, labelpad=3)
axL.set_ylabel(r'$R^{(2)}$', fontsize=22, labelpad=4)
axR.set_xlabel(r'$U^{(1)}$', fontsize=22, labelpad=3)
axR.set_ylabel(r'$U^{(2)}$', fontsize=22, labelpad=4)

fig.savefig('out.png', dpi=100)
